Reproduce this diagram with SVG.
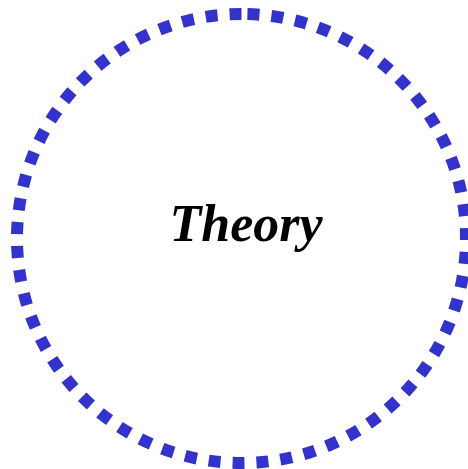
<svg xmlns="http://www.w3.org/2000/svg" width="468" height="469" viewBox="0 0 468 469">
<style>
.ring{fill:none;stroke:#3333cc;stroke-width:12;stroke-dasharray:12 12;stroke-linecap:butt}
.label{font-family:"Liberation Serif","Times New Roman",serif;font-weight:bold;font-style:italic;font-size:52px;fill:#000;text-anchor:middle}
</style>
<rect width="468" height="469" fill="#fff"/>
<g id="theory">
<path class="ring" d="M241.5 14 A224.5 224.5 0 0 0 241.5 463 A224.5 224.5 0 0 0 241.5 14"/>
<text class="label" x="246" y="241">Theory</text>
</g>
<g id="connectors"/>
</svg>
